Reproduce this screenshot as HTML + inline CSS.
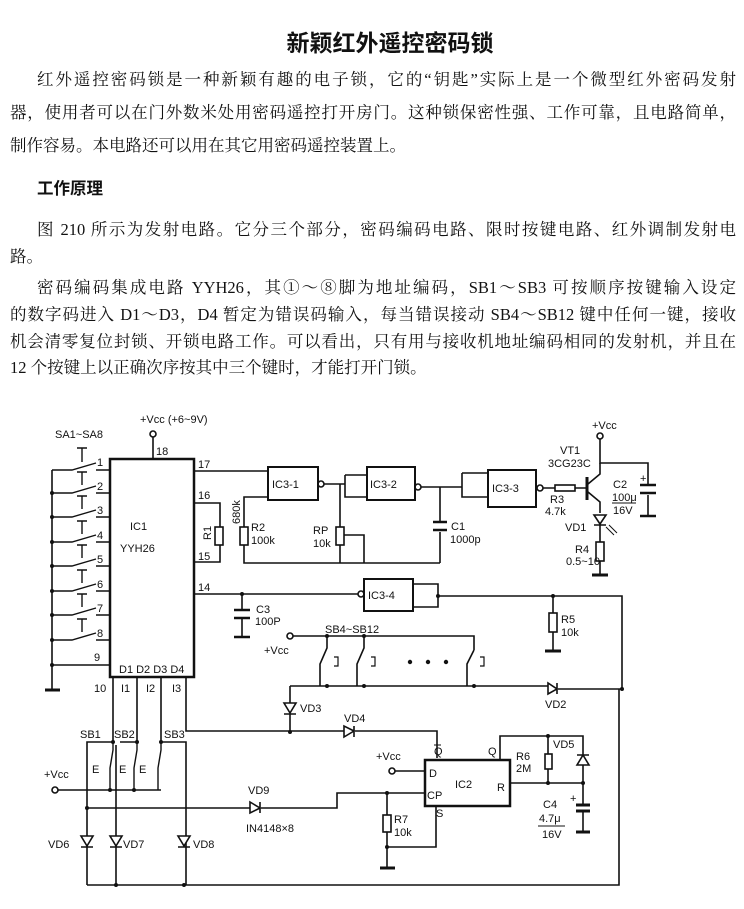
<!DOCTYPE html>
<html><head><meta charset="utf-8">
<style>
body{margin:0;width:744px;height:909px;background:#fff;position:relative;overflow:hidden;font-family:"Liberation Serif","Noto Serif CJK SC","Noto Sans CJK SC",serif;color:#111}
.l{position:absolute;left:10px;width:726px;font-size:16.5px;line-height:20px;text-align:justify;text-align-last:justify;white-space:nowrap}
.n{text-align-last:auto}
.t{position:absolute;left:0;width:780px;text-align:center;top:24px;font-size:23px;font-weight:bold;font-family:"Noto Sans CJK SC",sans-serif}
svg{position:absolute;left:0;top:0}
svg text{font-family:"Liberation Sans",sans-serif;font-size:11px;fill:#111}
</style></head><body>
<div class="t">新颖红外遥控密码锁</div>
<div class="l" style="top:70px;left:37px;width:699px">红外遥控密码锁是一种新颖有趣的电子锁，它的“钥匙”实际上是一个微型红外密码发射</div>
<div class="l" style="top:103px">器，使用者可以在门外数米处用密码遥控打开房门。这种锁保密性强、工作可靠，且电路简单，</div>
<div class="l n" style="top:136px">制作容易。本电路还可以用在其它用密码遥控装置上。</div>
<div class="l n" style="top:177px;left:37px;font-weight:bold;font-family:'Noto Sans CJK SC',sans-serif">工作原理</div>
<div class="l" style="top:220px;left:37px;width:699px">图 210 所示为发射电路。它分三个部分，密码编码电路、限时按键电路、红外调制发射电</div>
<div class="l n" style="top:247px">路。</div>
<div class="l" style="top:278px;left:37px;width:699px">密码编码集成电路 YYH26，其①～⑧脚为地址编码，SB1～SB3 可按顺序按键输入设定</div>
<div class="l" style="top:305px">的数字码进入 D1～D3，D4 暂定为错误码输入，每当错误接动 SB4～SB12 键中任何一键，接收</div>
<div class="l" style="top:332px">机会清零复位封锁、开锁电路工作。可以看出，只有用与接收机地址编码相同的发射机，并且在</div>
<div class="l n" style="top:358px">12 个按键上以正确次序按其中三个键时，才能打开门锁。</div>

<svg width="744" height="909" viewBox="0 0 744 909" fill="none" stroke="#111" stroke-width="1.6">
<!-- IC1 -->
<rect x="110" y="459" width="84" height="218" stroke-width="2.5"/>
<text x="130" y="530" stroke="none" font-size="14">IC1</text>
<text x="120" y="552" stroke="none" font-size="14">YYH26</text>
<text x="119" y="673" stroke="none">D1 D2 D3 D4</text>
<text x="55" y="438" stroke="none">SA1~SA8</text>
<text x="140" y="423" stroke="none" font-size="10">+Vcc (+6~9V)</text>
<circle cx="153" cy="434" r="3"/><path d="M153 437V459"/>
<text x="156" y="455" stroke="none">18</text>
<!-- left bus -->
<path d="M52 470V690M45 690H60" />
<path d="M45 690H60" stroke-width="3"/>
<g stroke-width="1.4">
<path d="M52 470H72L96 463M96 470H110M82 448V462M77 448H87"/>
<path d="M52 493H72L96 486M96 493H110M82 472V485M77 472H87"/>
<path d="M52 517H72L96 510M96 517H110M82 496V509M77 496H87"/>
<path d="M52 542H72L96 535M96 542H110M82 521V534M77 521H87"/>
<path d="M52 566H72L96 559M96 566H110M82 545V558M77 545H87"/>
<path d="M52 591H72L96 584M96 591H110M82 570V583M77 570H87"/>
<path d="M52 615H72L96 608M96 615H110M82 594V607M77 594H87"/>
<path d="M52 640H72L96 633M96 640H110M82 619V632M77 619H87"/>
<path d="M52 665H110"/>
</g>
<g fill="#111" stroke="none">
<circle cx="52" cy="493" r="2"/><circle cx="52" cy="517" r="2"/><circle cx="52" cy="542" r="2"/><circle cx="52" cy="566" r="2"/><circle cx="52" cy="591" r="2"/><circle cx="52" cy="615" r="2"/><circle cx="52" cy="640" r="2"/><circle cx="52" cy="665" r="2"/>
</g>
<g stroke="none">
<text x="97" y="466">1</text><text x="97" y="490">2</text><text x="97" y="514">3</text><text x="97" y="539">4</text><text x="97" y="563">5</text><text x="97" y="588">6</text><text x="97" y="612">7</text><text x="97" y="637">8</text><text x="94" y="661">9</text>
<text x="198" y="468">17</text><text x="198" y="499">16</text><text x="198" y="560">15</text><text x="198" y="591">14</text>
<text x="94" y="692">10</text><text x="121" y="692">I1</text><text x="146" y="692">I2</text><text x="172" y="692">I3</text>
</g>
<!-- R1 -->
<path d="M194 503H220V562H194"/><rect x="215" y="527" width="8" height="18" fill="#fff"/>
<text x="203" y="540" stroke="none" font-size="10" transform="rotate(-90 207 536)">R1</text>
<text x="226" y="530" stroke="none" font-size="10" transform="rotate(-90 230 520)">680k</text>
<!-- pin17 to IC3-1 -->
<path d="M194 471H268"/>
<rect x="268" y="467" width="50" height="33" stroke-width="2"/>
<text x="272" y="488" stroke="none">IC3-1</text>
<circle cx="321" cy="484" r="3"/>
<path d="M324 484H345M340 484V497M345 475V497H367M345 475H367"/>
<!-- R2 -->
<path d="M268 497H244V563H440"/><rect x="240" y="527" width="8" height="18" fill="#fff"/>
<text x="251" y="531" stroke="none">R2</text><text x="251" y="544" stroke="none">100k</text>
<!-- RP -->
<path d="M340 497V563"/><rect x="336" y="527" width="8" height="18" fill="#fff"/>
<path d="M344 535H364V563"/>
<text x="313" y="534" stroke="none">RP</text><text x="313" y="547" stroke="none">10k</text>
<rect x="367" y="467" width="48" height="33" stroke-width="2"/>
<text x="370" y="488" stroke="none">IC3-2</text>
<circle cx="418" cy="487" r="3"/>
<path d="M421 487H462"/>
<!-- C1 -->
<path d="M440 487V522M440 532V563"/>
<path d="M433 522H447M433 530H447" stroke-width="2.5"/>
<text x="451" y="530" stroke="none">C1</text><text x="450" y="543" stroke="none">1000p</text>
<!-- IC3-3 -->
<path d="M462 473V497H488M462 473H488"/>
<rect x="488" y="470" width="48" height="37" stroke-width="2"/>
<text x="492" y="492" stroke="none">IC3-3</text>
<circle cx="540" cy="488" r="3"/>
<path d="M543 488H587"/><rect x="555" y="485" width="20" height="6" fill="#fff"/>
<text x="550" y="503" stroke="none">R3</text><text x="545" y="515" stroke="none">4.7k</text>
<!-- transistor -->
<path d="M587 477V500" stroke-width="3"/>
<path d="M588 484L600 474V463M588 492L600 502V513"/>
<circle cx="600" cy="436" r="3"/><path d="M600 439V463H648V485M648 495V516"/>
<text x="592" y="429" stroke="none" font-size="10">+Vcc</text>
<text x="560" y="454" stroke="none">VT1</text><text x="548" y="467" stroke="none" font-size="10">3CG23C</text>
<path d="M640 485H656M640 493H656" stroke-width="2.5"/>
<path d="M640 516H656" stroke-width="2.5"/>
<text x="640" y="482" stroke="none" font-size="10">+</text>
<text x="613" y="488" stroke="none">C2</text><text x="612" y="501" stroke="none" font-size="10">100μ</text><text x="613" y="514" stroke="none" font-size="10">16V</text>
<path d="M612 503H636" stroke-width="1"/>
<!-- LED -->
<path d="M594 515H606L600 524ZM594 525H606" fill="#fff"/>
<path d="M600 525V575M592 575H608"/>
<path d="M592 575H608" stroke-width="3"/>
<path d="M606 527L614 535M609 525L617 533" stroke-width="1"/>
<text x="565" y="531" stroke="none">VD1</text>
<rect x="596" y="542" width="8" height="19" fill="#fff"/>
<text x="575" y="553" stroke="none">R4</text><text x="566" y="565" stroke="none">0.5~10</text>
<!-- pin 14 / IC3-4 -->
<path d="M194 594H358"/>
<circle cx="361" cy="594" r="3"/>
<rect x="364" y="579" width="49" height="32" stroke-width="2"/>
<text x="368" y="599" stroke="none">IC3-4</text>
<path d="M413 584H438V607H413M438 596H622V689"/>
<circle cx="438" cy="596" r="2" fill="#111" stroke="none"/><circle cx="553" cy="596" r="2" fill="#111" stroke="none"/><circle cx="242" cy="594" r="2" fill="#111" stroke="none"/>
<path d="M553 596V651M545 651H561"/><path d="M545 651H561" stroke-width="3"/>
<rect x="549" y="613" width="8" height="19" fill="#fff"/>
<text x="561" y="623" stroke="none">R5</text><text x="561" y="636" stroke="none">10k</text>
<!-- C3 -->
<path d="M242 594V610M242 619V637"/>
<path d="M234 610H250M234 618H250M234 637H250" stroke-width="2.5"/>
<text x="256" y="613" stroke="none">C3</text><text x="255" y="625" stroke="none">100P</text>
<!-- SB4~SB12 -->
<text x="325" y="633" stroke="none">SB4~SB12</text>
<circle cx="290" cy="636" r="3"/>
<text x="264" y="654" stroke="none" font-size="10">+Vcc</text>
<path d="M293 636H474V650M327 636V648L320 664V686M364 636V648L357 664V686M474 650L467 664V686"/>
<path d="M334 657H338V666H334M371 657H375V666H371M480 657H484V666H480" stroke-width="1.2"/>
<g fill="#111" stroke="none"><circle cx="327" cy="636" r="2"/><circle cx="364" cy="636" r="2"/><circle cx="410" cy="662" r="2.2"/><circle cx="428" cy="662" r="2.2"/><circle cx="446" cy="662" r="2.2"/>
<circle cx="327" cy="686" r="2"/><circle cx="364" cy="686" r="2"/><circle cx="474" cy="686" r="2"/><circle cx="622" cy="689" r="2"/><circle cx="290" cy="732" r="2"/></g>
<path d="M290 686H548M558 689H622M290 686V703M290 714V732"/>
<path d="M548 683V694L557 689Z M557 683V694" fill="#fff"/>
<text x="545" y="708" stroke="none">VD2</text>
<path d="M284 703H296L290 713ZM284 714H296" fill="#fff"/>
<text x="300" y="712" stroke="none">VD3</text>
<!-- VD4 line -->
<path d="M186 677V731H344M355 731H437V758"/>
<path d="M344 726V737L354 731ZM354 726V737" fill="#fff"/>
<text x="344" y="722" stroke="none">VD4</text>
<!-- pins 10-12 to SB -->
<path d="M113 677V742H87V885M137 677V742H120M161 677V742H186V885"/>
<g fill="#111" stroke="none"><circle cx="113" cy="742" r="2"/><circle cx="137" cy="742" r="2"/><circle cx="161" cy="742" r="2"/></g>
<text x="80" y="738" stroke="none">SB1</text><text x="114" y="738" stroke="none">SB2</text><text x="164" y="738" stroke="none">SB3</text>
<path d="M113 742V750L110 768V790M137 742V750L134 768V790M161 742V750L158 768V790" stroke-width="1.4"/>
<text x="92" y="773" stroke="none">E</text><text x="119" y="773" stroke="none">E</text><text x="139" y="773" stroke="none">E</text>
<circle cx="55" cy="790" r="3"/><path d="M58 790H161"/>
<text x="44" y="778" stroke="none" font-size="10">+Vcc</text>
<g fill="#111" stroke="none"><circle cx="110" cy="790" r="2"/><circle cx="134" cy="790" r="2"/><circle cx="87" cy="808" r="2"/><circle cx="116" cy="885" r="2"/><circle cx="184" cy="885" r="2"/></g>
<!-- VD9 -->
<path d="M87 808H250M261 808H337V793H425"/>
<path d="M250 802V813L260 808ZM260 802V813" fill="#fff"/>
<text x="248" y="794" stroke="none">VD9</text>
<text x="246" y="832" stroke="none">IN4148×8</text>
<!-- VD6-8 -->
<path d="M116 745V885"/>
<path d="M81 836H93L87 846ZM81 847H93" fill="#fff"/>
<path d="M110 836H122L116 846ZM110 847H122" fill="#fff"/>
<path d="M178 836H190L184 846ZM178 847H190" fill="#fff"/>
<text x="48" y="848" stroke="none">VD6</text><text x="123" y="848" stroke="none">VD7</text><text x="193" y="848" stroke="none">VD8</text>
<path d="M87 885L619 885V689"/>
<!-- IC2 -->
<rect x="425" y="760" width="85" height="46" stroke-width="2.5"/>
<text x="429" y="777" stroke="none">D</text><text x="427" y="799" stroke="none">CP</text><text x="497" y="791" stroke="none">R</text>
<text x="455" y="788" stroke="none" font-size="12">IC2</text>
<text x="434" y="755" stroke="none" font-size="10">Q</text><path d="M434 745H441" stroke-width="1"/>
<text x="488" y="755" stroke="none" font-size="10">Q</text>
<text x="436" y="817" stroke="none" font-size="10">S</text>
<circle cx="392" cy="771" r="3"/><path d="M395 771H425"/>
<text x="376" y="760" stroke="none" font-size="10">+Vcc</text>
<path d="M387 793V868M380 868H395M387 847H436V806"/><path d="M380 868H395" stroke-width="3"/>
<rect x="383" y="815" width="8" height="17" fill="#fff"/>
<text x="394" y="823" stroke="none">R7</text><text x="394" y="836" stroke="none">10k</text>
<g fill="#111" stroke="none"><circle cx="387" cy="793" r="2"/><circle cx="387" cy="847" r="2"/><circle cx="548" cy="736" r="2"/><circle cx="548" cy="783" r="2"/><circle cx="583" cy="783" r="2"/></g>
<path d="M500 760V736H583V783M510 783H583V805M548 736V783"/>
<rect x="545" y="754" width="7" height="15" fill="#fff"/>
<text x="516" y="760" stroke="none">R6</text><text x="516" y="772" stroke="none">2M</text>
<path d="M577 765H589L583 755ZM577 755H589" fill="#fff"/>
<text x="553" y="748" stroke="none">VD5</text>
<path d="M576 805H590M576 811H590M576 832H590" stroke-width="3"/>
<path d="M583 811V832"/>
<text x="570" y="802" stroke="none" font-size="9">+</text>
<text x="543" y="808" stroke="none">C4</text><text x="539" y="822" stroke="none">4.7μ</text><text x="542" y="838" stroke="none">16V</text>
<path d="M538 826H565" stroke-width="1"/>
</svg>
</body></html>
